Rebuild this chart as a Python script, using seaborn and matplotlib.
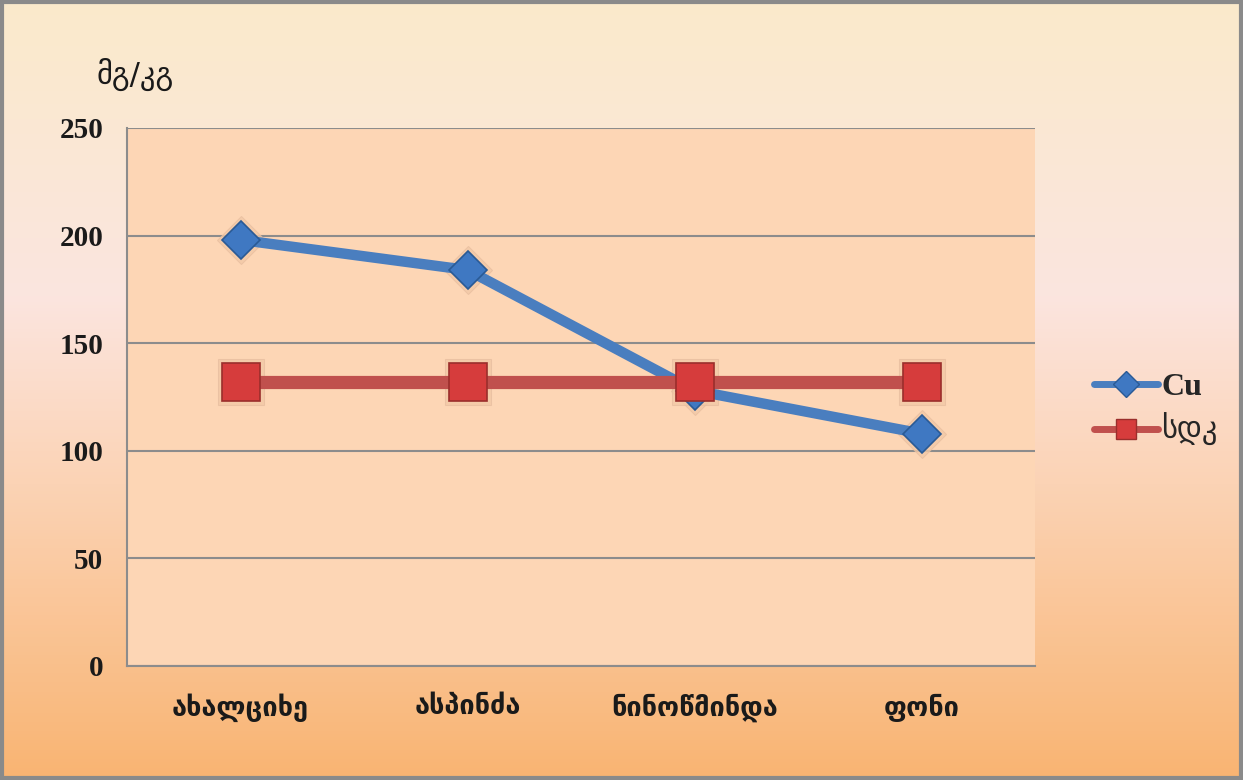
import numpy as np
import pandas as pd
import matplotlib
matplotlib.use("Agg")
import matplotlib.pyplot as plt
import seaborn as sns
from matplotlib.colors import LinearSegmentedColormap
from matplotlib.lines import Line2D
from matplotlib.patches import Rectangle

categories = ["ახალციხე", "ასპინძა", "ნინოწმინდა", "ფონი"]
cu_values = [198, 184, 128, 108]
sdk_values = [132, 132, 132, 132]
series_names = ["Cu", "სდკ"]
y_ticks = [0, 50, 100, 150, 200, 250]
y_label = "მგ/კგ"

sns.set_theme(style="white")
plt.rcParams['font.family'] = ['DejaVu Sans']

fig = plt.figure(figsize=(12.43, 7.80), dpi=100)

# gradient background
bg = fig.add_axes([0, 0, 1, 1], zorder=-10)
cmap = LinearSegmentedColormap.from_list(
    "bg", [(0.0, "#FAEACB"), (0.38, "#FBE5DF"), (0.62, "#FBD3B5"), (1.0, "#F9B472")])
grad = np.linspace(0, 1, 256).reshape(-1, 1)
bg.imshow(grad, cmap=cmap, aspect="auto", extent=[0, 1, 0, 1], origin="upper")
bg.set_xlim(0, 1); bg.set_ylim(0, 1)
bg.axis("off")
bg.add_patch(Rectangle((0.002, 0.002), 0.996, 0.995, fill=False,
                       edgecolor="#8A8A8A", lw=3, transform=bg.transAxes))

ax = fig.add_axes([0.1022, 0.1462, 0.7305, 0.6897])
ax.set_facecolor("#FDD6B5")

df = pd.DataFrame({"cat": categories * 2,
                   "val": cu_values + sdk_values,
                   "series": [series_names[0]] * 4 + [series_names[1]] * 4})
d_cu = df[df.series == "Cu"]
d_sdk = df[df.series == "სდკ"]

blue_line = "#4A7EBF"
blue_mark = "#3F78C2"
red_line = "#C0504D"
red_mark = "#D63C3C"

# glow behind markers
sns.lineplot(data=d_cu, x="cat", y="val", sort=False, ax=ax, lw=0, marker="D",
             markersize=24, markerfacecolor="#F2C9A6", markeredgecolor="#E8BFA0",
             alpha=0.8, zorder=2, legend=False)
sns.lineplot(data=d_sdk, x="cat", y="val", sort=False, ax=ax, lw=0, marker="s",
             markersize=33, markerfacecolor="#F2C9A6", markeredgecolor="#E8BFA0",
             alpha=0.8, zorder=2, legend=False)

sns.lineplot(data=d_sdk, x="cat", y="val", sort=False, ax=ax, color=red_line, lw=9.5,
             marker="s", markersize=27, markerfacecolor=red_mark,
             markeredgecolor="#9A2E2C", markeredgewidth=1.2, zorder=4, legend=False)
sns.lineplot(data=d_cu, x="cat", y="val", sort=False, ax=ax, color=blue_line, lw=7.5,
             marker="D", markersize=19, markerfacecolor=blue_mark,
             markeredgecolor="#2A5A95", markeredgewidth=1.2, zorder=3, legend=False)

ax.set_xlim(-0.5, 3.5)
ax.set_ylim(0, 250)
ax.set_yticks(y_ticks)
ax.grid(axis="y", color="#8C8C8C", lw=1.5)
ax.set_axisbelow(True)
for s in ["top", "right"]:
    ax.spines[s].set_visible(False)
for s in ["left", "bottom"]:
    ax.spines[s].set_color("#8C8C8C")
    ax.spines[s].set_linewidth(1.5)
ax.set_xlabel("")
ax.set_ylabel("")
ax.tick_params(axis="y", length=0, pad=17)
ax.tick_params(axis="x", length=0, pad=20)
for t in ax.get_yticklabels():
    t.set_fontfamily("Liberation Serif")
    t.set_fontweight("bold")
    t.set_fontsize(21)
    t.set_color("#1A1A1A")
for t in ax.get_xticklabels():
    t.set_fontfamily("DejaVu Sans")
    t.set_fontweight("bold")
    t.set_fontsize(19.5)
    t.set_color("#1A1A1A")

fig.text(0.109, 0.904, y_label, ha="center", va="center", fontsize=22,
         color="#1A1A1A", family="DejaVu Sans")

handles = [
    Line2D([0], [0], color=blue_line, lw=5, marker="D", markersize=13,
           markerfacecolor=blue_mark, markeredgecolor="#2A5A95"),
    Line2D([0], [0], color=red_line, lw=5, marker="s", markersize=15,
           markerfacecolor=red_mark, markeredgecolor="#9A2E2C"),
]
leg = fig.legend(handles, series_names, loc="center left",
                 bbox_to_anchor=(0.859, 0.475), frameon=False,
                 handlelength=2.2, handletextpad=0.1, labelspacing=0.4,
                 prop={"size": 21})
texts = leg.get_texts()
texts[0].set_fontfamily("Liberation Serif")
texts[0].set_fontweight("bold")
texts[0].set_fontsize(23)
texts[1].set_fontfamily("DejaVu Sans")
texts[1].set_fontsize(22)

fig.savefig("out.png", dpi=100)
